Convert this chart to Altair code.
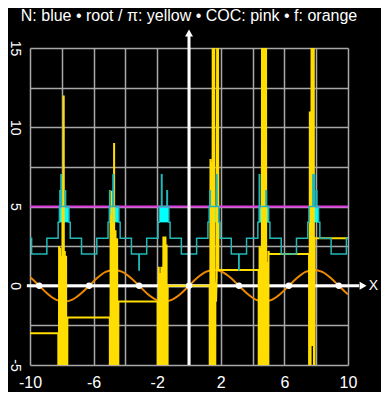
import altair as alt
import pandas as pd

# ---------------- data ----------------
# f (orange): x positions and values
f_x = [-10, -9.95, -9.42, -8.90, -8.38, -7.85, -7.33, -6.81, -6.28, -5.76, -5.24,
       -4.71, -4.19, -3.67, -3.14, -2.62, -2.09, -1.57, -1.05, -0.52, 0, 0.52,
       1.05, 1.57, 2.09, 2.62, 3.14, 3.67, 4.19, 4.71, 5.24, 5.76, 6.28, 6.81,
       7.33, 7.85, 8.38, 8.90, 9.42, 9.95, 10]
f_y = [0.54, 0.5, 0, -0.5, -0.87, -1, -0.87, -0.5, 0, 0.5, 0.87,
       1, 0.87, 0.5, 0, -0.5, -0.87, -1, -0.87, -0.5, 0, 0.5,
       0.87, 1, 0.87, 0.5, 0, -0.5, -0.87, -1, -0.87, -0.5, 0, 0.5,
       0.87, 1, 0.87, 0.5, 0, -0.5, -0.54]

# root / pi (yellow)
r_x = [-10, -8.22, -8.20, -8.17, -8.14, -8.10, -8.06, -8.02, -7.98, -7.95, -7.92, -7.88,
       -7.85, -7.81, -7.77, -7.73, -7.69, -7.65,
       -4.98, -4.96, -4.93, -4.90, -4.86, -4.83, -4.80, -4.77, -4.71, -4.68, -4.62,
       -4.58, -4.52, -4.48, -4.44,
       -1.97, -1.95, -1.90, -1.86, -1.82, -1.78, -1.74, -1.70, -1.61, -1.58, -1.55,
       -1.52, -1.48, -1.45, -1.41, -1.38, -1.34,
       1.30, 1.32, 1.35, 1.38, 1.42, 1.46, 1.50, 1.54, 1.58, 1.62, 1.66, 1.70, 1.74,
       1.80, 1.85,
       4.38, 4.40, 4.44, 4.48, 4.52, 4.56, 4.60, 4.63, 4.66, 4.69, 4.72, 4.75, 4.78,
       4.81, 4.84, 4.87, 4.92, 4.96, 5.00, 5.03,
       7.55, 7.57, 7.60, 7.63, 7.66, 7.69, 7.72, 7.75, 7.78, 7.81, 7.84, 7.87, 7.90, 10]
r_y = [-3, -3, -30, 2.5, -30, 2.4, -30, 1.9, -30, 7.0, -30, 12.0,
       -30, 2.2, -30, 1.9, -30, -2,
       -2, -30, 4.5, -30, 6.0, -30, 4.0, -30, 9.0, -30, 3.5,
       -30, 3.0, -30, -1,
       -1, -30, 1.2, -30, 0.8, -30, 1.2, -30, 3.1, -30, 3.0,
       -30, 3.1, -30, 2.6, -30, 0,
       0, -30, 8.0, -30, 7.8, -30, 30, -30, 30, -30, 0.2, -1.0, 0.5,
       30, 1,
       1, -30, 2.5, -30, 2.4, -30, 30, -30, 30, -30, 30, -30, 30,
       -30, 30, -30, 1.5, -30, 2.2, 2,
       2, -30, 11, -30, 11, -3.8, 30, -3.8, 30, -3.8, 30, -30, 3, 3]

# N (blue): step breakpoints and levels
n_x = [-10, -9.90, -8.94, -8.23, -8.15, -8.12, -8.09, -8.05, -8.02, -7.79, -7.76,
       -7.55, -7.47, -6.76, -5.80, -5.09, -5.01, -4.99, -4.96, -4.78, -4.75, -4.41,
       -4.33, -3.62, -3.15, -3.13, -2.66, -1.95, -1.87, -1.73, -1.70, -1.39, -1.36,
       -1.27, -1.19, -0.48, 0.48, 1.19, 1.27, 1.31, 1.34, 1.73, 1.76, 1.87, 1.95,
       2.66, 3.13, 3.15, 3.62, 4.33, 4.41, 4.42, 4.45, 4.84, 4.87, 5.01, 5.09, 5.80,
       6.76, 7.47, 7.55, 7.79, 7.82, 7.87, 7.90, 8.01, 8.04, 8.15, 8.23, 8.94, 9.90, 10]
n_y = [3, 2, 3, 4, 5, 6, 5, 7, 5, 6, 5,
       4, 3, 2, 3, 4, 5, 6, 5, 7, 5, 4,
       3, 2, 1, 2, 3, 4, 5, 7, 5, 6, 5,
       4, 3, 2, 3, 4, 5, 6, 5, 7, 5, 4, 3,
       2, 1, 2, 3, 4, 5, 7, 5, 6, 5, 4, 3, 2,
       3, 4, 5, 7, 5, 7, 5, 6, 5, 4, 3, 2, 3, 3]

# dense N zones (oscillating between 4 and 5)
zone_lo = [-8.15, -5.01, -1.87, 1.27, 4.41, 7.55]
zone_hi = [-7.55, -4.41, -1.27, 1.87, 5.01, 8.15]
zone_bottom = [4, 4, 4, 4, 4, 4]
zone_top = [5, 5, 5, 5, 5, 5]

# COC (pink)
coc_level = [5]
# zeros of f (white dots)
zeros_x = [-9.42, -6.28, -3.14, 0, 3.14, 6.28, 9.42]

# axis decorations
x_grid = [-10, -8, -6, -4, -2, 0, 2, 4, 6, 8, 10]
y_grid = [-5, -2.5, 0, 2.5, 5, 7.5, 10, 12.5, 15]
x_arrow = {"x0": [-10.2], "x1": [10.7], "tip": [10.95], "label": [11.6]}
y_arrow = {"y0": [-5], "y1": [15.8], "tip": [15.95]}

TITLE = "N: blue • root / π: yellow • COC: pink • f: orange"
FONT = "Liberation Sans, Arial, sans-serif"

# ---------------- chart ----------------
xs = alt.Scale(domain=[-10, 10], nice=False, zero=False)
ys = alt.Scale(domain=[-5, 15], nice=False, zero=False)

x_axis = alt.Axis(values=x_grid, title=None, grid=True, domain=False, ticks=False, tickSize=0,
                  labelExpr="(datum.value + 10) % 4 === 0 ? replace(datum.label, '\u2212', '-') : ''",
                  labelPadding=9, labelFlush=False, labelOverlap=False, labelFontSize=16)
y_axis = alt.Axis(values=y_grid, title=None, grid=True, domain=False, ticks=False, tickSize=0,
                  labelExpr="datum.value % 5 === 0 ? replace(datum.label, '\u2212', '-') : ''",
                  labelAngle=90, labelAlign="center", labelBaseline="top", labelPadding=9,
                  labelFlush=False, labelOverlap=False, labelFontSize=14)


def X(field):
    return alt.X(field, type="quantitative", scale=xs, axis=x_axis)


def Y(field):
    return alt.Y(field, type="quantitative", scale=ys, axis=y_axis)


f_df = pd.DataFrame({"x": f_x, "y": f_y})
r_df = pd.DataFrame({"x": r_x, "y": r_y, "i": range(len(r_x))})
n_df = pd.DataFrame({"x": n_x, "y": n_y, "i": range(len(n_x))})
z_df = pd.DataFrame({"lo": zone_lo, "hi": zone_hi, "b": zone_bottom, "t": zone_top})
c_df = pd.DataFrame({"y": coc_level, "x0": [-10], "x1": [10]})
d_df = pd.DataFrame({"x": zeros_x, "y": [0] * len(zeros_x)})
xa_df = pd.DataFrame({"x0": x_arrow["x0"], "x1": x_arrow["x1"], "tip": x_arrow["tip"],
                      "lab": x_arrow["label"], "y": [0], "t": ["X"]})
ya_df = pd.DataFrame({"y0": y_arrow["y0"], "y1": y_arrow["y1"], "tip": y_arrow["tip"], "x": [0]})
t_df = pd.DataFrame({"t": [TITLE]})

orange = alt.Chart(f_df).mark_line(color="#F08A00", strokeWidth=2, interpolate="monotone", clip=True).encode(
    x=X("x"), y=Y("y"))

zones = alt.Chart(z_df).mark_rect(color="#00FFFF", opacity=1, clip=True).encode(
    x=X("lo"), x2="hi", y=Y("b"), y2="t")

pink = alt.Chart(c_df).mark_rule(color="#E038E0", strokeWidth=2).encode(
    x=X("x0"), x2="x1", y=Y("y"))

x_line = alt.Chart(xa_df).mark_rule(color="white", strokeWidth=3, clip=False).encode(
    x=X("x0"), x2="x1", y=Y("y"))
x_tip = alt.Chart(xa_df).mark_point(shape="triangle-right", filled=True, color="white", size=64,
                                    opacity=1, clip=False).encode(x=X("tip"), y=Y("y"))
x_lab = alt.Chart(xa_df).mark_text(color="white", fontSize=14, font=FONT, align="center",
                                   baseline="middle", clip=False).encode(x=X("lab"), y=Y("y"), text="t:N")

yellow = alt.Chart(r_df).mark_line(color="#FFDD00", strokeWidth=2, clip=True).encode(
    x=X("x"), y=Y("y"), order="i:Q")

cyan = alt.Chart(n_df).mark_line(color="#22B8B8", strokeWidth=1.5, interpolate="step-after", clip=True).encode(
    x=X("x"), y=Y("y"), order="i:Q")

y_line = alt.Chart(ya_df).mark_rule(color="white", strokeWidth=3, clip=False).encode(
    x=X("x"), y=Y("y0"), y2="y1")
y_tip = alt.Chart(ya_df).mark_point(shape="triangle-up", filled=True, color="white", size=64,
                                    opacity=1, clip=False).encode(x=X("x"), y=Y("tip"))

dots = alt.Chart(d_df).mark_circle(color="white", size=40, opacity=1).encode(x=X("x"), y=Y("y"))

title = alt.Chart(t_df).mark_text(color="white", fontSize=16, font=FONT, align="center",
                                  baseline="alphabetic", clip=False).encode(
    x=alt.value(159), y=alt.value(-27), text="t:N")

chart = alt.layer(
    orange, zones, pink, x_line, yellow, cyan, y_line, y_tip, x_tip, x_lab, dots, title
).properties(
    width=318, height=317,
    autosize="none",
    padding={"left": 22, "top": 40, "right": 33, "bottom": 27},
    background="black",
).configure_view(stroke=None).configure_axis(
    gridColor="#A8A8A8", gridWidth=1.5, gridOpacity=1,
    labelColor="white", labelFont=FONT,
)

chart.save("out.html", embed_options={"renderer": "svg", "actions": False})
